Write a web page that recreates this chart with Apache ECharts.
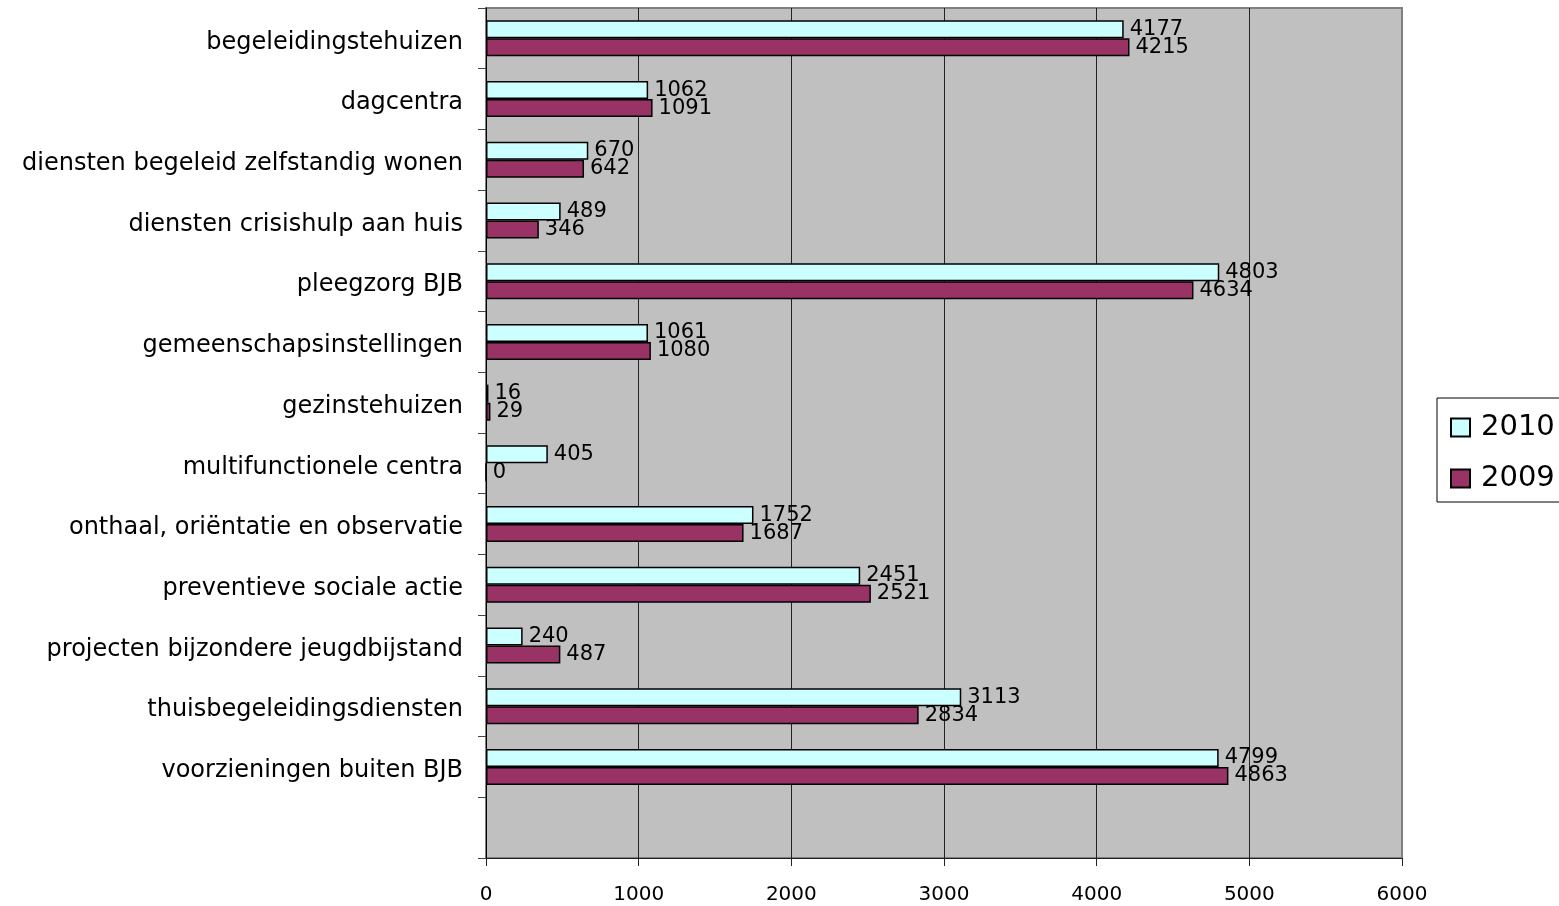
<!DOCTYPE html>
<html>
<head>
<meta charset="utf-8">
<script src="https://cdn.jsdelivr.net/npm/echarts@6/dist/echarts.min.js"></script>
<style>
html,body{margin:0;padding:0;background:#fff;}
#c{width:1559px;height:906px;}
</style>
</head>
<body>
<div id="c"></div>
<script>
const categories = [
  'begeleidingstehuizen',
  'dagcentra',
  'diensten begeleid zelfstandig wonen',
  'diensten crisishulp aan huis',
  'pleegzorg BJB',
  'gemeenschapsinstellingen',
  'gezinstehuizen',
  'multifunctionele centra',
  'onthaal, oriëntatie en observatie',
  'preventieve sociale actie',
  'projecten bijzondere jeugdbijstand',
  'thuisbegeleidingsdiensten',
  'voorzieningen buiten BJB',
  ''
];
const values2010 = [4177, 1062, 670, 489, 4803, 1061, 16, 405, 1752, 2451, 240, 3113, 4799, null];
const values2009 = [4215, 1091, 642, 346, 4634, 1080, 29, 0, 1687, 2521, 487, 2834, 4863, null];
const xTicks = [0, 1000, 2000, 3000, 4000, 5000, 6000];

const FONT = 'DejaVu Sans';
const chart = echarts.init(document.getElementById('c'));

const labelCfg = {
  show: true,
  position: 'right',
  distance: 6,
  color: '#000',
  fontFamily: FONT,
  fontSize: 21
};

chart.setOption({
  animation: false,
  backgroundColor: '#fff',
  textStyle: { fontFamily: FONT },
  grid: {
    left: 486, right: 157, top: 8, bottom: 48,
    show: true,
    backgroundColor: '#C0C0C0',
    borderColor: '#808080',
    borderWidth: 2
  },
  legend: {
    orient: 'vertical',
    left: 1437,
    top: 398,
    padding: [15, 12, 9, 13],
    itemGap: 22,
    itemWidth: 19,
    itemHeight: 18,
    borderColor: '#000',
    borderWidth: 1,
    backgroundColor: '#fff',
    icon: 'rect',
    textStyle: { fontFamily: FONT, fontSize: 29, color: '#000', padding: [0, 0, 0, 6] },
    data: ['2010', '2009']
  },
  xAxis: {
    type: 'value',
    min: xTicks[0],
    max: xTicks[xTicks.length - 1],
    interval: 1000,
    axisLine: { show: true, lineStyle: { color: '#222', width: 1 } },
    axisTick: { show: true, length: 8, lineStyle: { color: '#222' } },
    axisLabel: { color: '#000', fontFamily: FONT, fontSize: 20, margin: 27, formatter: (v) => String(v) },
    splitLine: { show: true, showMinLine: false, showMaxLine: false, lineStyle: { color: '#222', width: 1 } }
  },
  yAxis: {
    type: 'category',
    inverse: true,
    data: categories,
    axisLine: { show: true, lineStyle: { color: '#000', width: 1 } },
    axisTick: { show: true, length: 8, lineStyle: { color: '#444' } },
    axisLabel: {
      color: '#000', fontFamily: FONT, fontSize: 24, margin: 23,
      formatter: (v) => v ? '{a|' + v + '}' : '',
      rich: { a: { fontFamily: FONT, fontSize: 24, color: '#000', padding: [8, 0, 0, 0] } }
    },
    splitLine: { show: false }
  },
  series: [
    {
      name: '2010',
      type: 'bar',
      data: values2010,
      barWidth: 18,
      barGap: '0%',
      itemStyle: { color: '#CCFFFF', borderColor: '#000', borderWidth: 1.5 },
      label: labelCfg
    },
    {
      name: '2009',
      type: 'bar',
      data: values2009,
      barWidth: 18,
      barGap: '0%',
      itemStyle: { color: '#993366', borderColor: '#000', borderWidth: 1.5 },
      label: labelCfg
    }
  ]
});
</script>
</body>
</html>
